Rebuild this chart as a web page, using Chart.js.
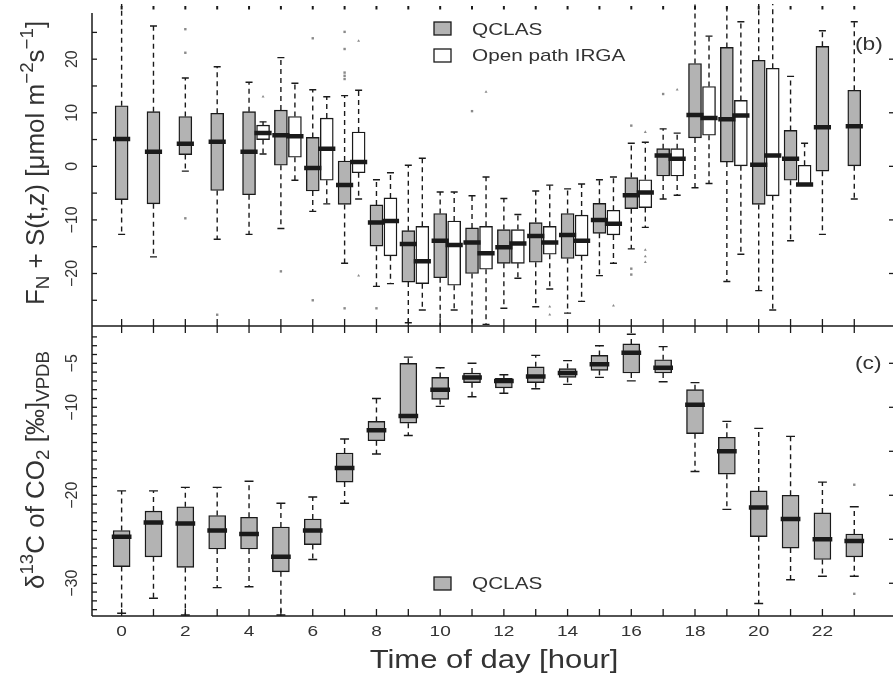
<!DOCTYPE html>
<html>
<head>
<meta charset="utf-8">
<script src="https://cdn.jsdelivr.net/npm/chart.js@4.4.1/dist/chart.umd.min.js"></script>
<style>
  html, body { margin: 0; padding: 0; background: #fff; overflow: hidden; }
  #wrap { position: relative; width: 893px; height: 677px; overflow: hidden; }
  #wrap canvas { position: absolute; left: 0; top: 0; }
</style>
</head>
<body>
<div id="wrap">
  <canvas id="fluxChart" width="900" height="677"></canvas>
  <canvas id="isoChart" width="900" height="677"></canvas>
</div>
<script>
// ---- data: panel (b), flux boxes per hour ----
const hours = [0, 1, 2, 3, 4, 5, 6, 7, 8, 9, 10, 11, 12, 13, 14, 15, 16, 17, 18, 19, 20, 21, 22, 23];

const fluxQclasLow  = [-12.7, -16.9, -0.9, -13.6, -12.7, -11.6, -8.4, -18.1, -22.4, -29.2, -34, -34, -26.5, -26.2, -27.4, -20.4, -15.4, -6.1, -4.0, -21.5, -23.2, -13.9, -12.7, -6.1];
const fluxQclasQ1   = [-6.2, -7.0, 2.2, -4.5, -5.3, 0.2, -4.6, -7.1, -14.9, -21.6, -20.8, -20.0, -18.1, -17.9, -17.2, -12.5, -7.9, -1.8, 5.3, 0.8, -7.1, -2.6, -0.9, 0.1];
const fluxQclasMed  = [5.1, 2.7, 4.2, 4.6, 2.7, 5.8, -0.3, -3.5, -10.5, -14.5, -13.9, -14.2, -15.1, -13.0, -12.8, -10.0, -5.4, 2.0, 9.6, 8.8, 0.3, 1.4, 7.3, 7.5];
const fluxQclasQ3   = [11.3, 10.2, 9.3, 9.9, 10.2, 10.5, 5.4, 1.0, -7.2, -12.0, -8.8, -11.5, -11.8, -10.5, -8.8, -6.9, -2.1, 3.3, 19.2, 22.2, 19.8, 6.7, 22.4, 14.2];
const fluxQclasHigh = [34, 26.2, 16.5, 18.6, 15.7, 20.3, 14.3, 13.2, -2.5, 0.2, -4.8, -5.5, -6.0, -4.6, -4.2, -2.5, 4.3, 7.0, 34, 34, 34, 16.8, 25.3, 27.0];
const fluxQclasOut  = [[2, 25.6], [2, 21.2], [2, -9.7], [3, -27.7], [5, -19.6], [6, 23.9], [6, -25.0], [7, 25.1], [7, 21.9], [7, 17.5], [7, 16.9], [7, 16.3], [7, -26.5], [8, -26.5], [11, 10.3], [16, 7.6], [16, -19.1], [16, -20.2], [17, 13.5]];

const irgaHours    = [4, 5, 6, 7, 8, 9, 10, 11, 12, 13, 14, 15, 16, 17, 18, 19, 20, 21];
const fluxIrgaLow  = [2.3, -2.6, -7.0, -6.1, -21.9, -26.8, -26.8, -29.5, -20.9, -22.9, -25.2, -18.1, -11.4, -5.4, -3.2, -16.4, -26.8, -3.4];
const fluxIrgaQ1   = [5.0, 1.7, -2.6, -1.2, -16.7, -21.9, -22.2, -19.2, -18.1, -16.4, -16.7, -12.8, -7.7, -1.8, 5.8, 0.1, -5.5, -3.4];
const fluxIrgaMed  = [6.2, 5.6, 3.3, 0.8, -10.2, -17.7, -14.7, -16.2, -14.4, -14.2, -13.9, -10.7, -4.9, 1.4, 9.0, 9.5, 2.0, -3.4];
const fluxIrgaQ3   = [7.7, 9.3, 9.0, 6.4, -5.9, -11.2, -10.2, -11.2, -11.8, -11.2, -9.1, -8.2, -2.5, 3.3, 14.9, 12.3, 18.3, 0.2];
const fluxIrgaHigh = [8.3, 15.5, 13.0, 14.2, -1.2, 1.5, -4.8, -2.0, -9.0, -3.5, -3.3, -2.0, 4.5, 6.2, 24.3, 27.0, 34, 4.3];
const fluxIrgaOut  = [[4, 13.0], [7, 23.4], [7, -20.4], [11, 13.9], [13, -26.2], [13, -27.7], [15, -26.0], [16, 6.4], [16, -15.6], [16, -16.8], [16, -17.9], [17, 14.3]];

// ---- data: panel (c), delta13C boxes per hour ----
const isoLow  = [-33.4, -31.7, -33.6, -30.5, -30.4, -33.6, -27.3, -20.9, -15.3, -13.2, -9.9, -8.8, -8.4, -7.9, -7.4, -6.6, -7.0, -7.1, -17.3, -21.6, -32.3, -29.6, -29.2, -29.2];
const isoQ1   = [-28.1, -27.0, -28.2, -26.1, -26.1, -28.7, -25.6, -18.5, -13.8, -11.8, -9.1, -7.2, -7.8, -7.2, -6.6, -5.8, -6.1, -6.1, -13.0, -17.6, -24.7, -26.0, -27.3, -27.0];
const isoMed  = [-24.7, -23.1, -23.2, -24.0, -24.4, -27.0, -24.0, -16.9, -12.6, -11.0, -8.0, -6.6, -7.0, -6.5, -6.1, -5.1, -3.8, -5.5, -9.7, -15.0, -21.4, -22.7, -25.0, -25.2];
const isoQ3   = [-24.0, -21.8, -21.3, -22.3, -22.5, -23.6, -22.7, -15.2, -11.6, -5.0, -6.6, -6.1, -6.7, -5.4, -5.6, -4.1, -2.8, -4.6, -8.0, -13.4, -19.5, -20.0, -22.0, -24.4];
const isoHigh = [-19.5, -19.5, -19.1, -19.1, -18.4, -20.9, -20.2, -13.6, -9.0, -4.3, -5.5, -5.0, -6.3, -4.1, -4.7, -3.0, -1.7, -3.1, -7.2, -11.6, -12.4, -13.3, -18.5, -21.3];
const isoOut  = [[23, -18.8], [23, -31.2]];

// ---- ticks ----
const fluxTickLabels = [-20, -10, 0, 10, 20];
const fluxMinorTicks = [-25, -20, -15, -10, -5, 0, 5, 10, 15, 20, 25];
const isoTickLabels  = [-5, -10, -20, -30];
const isoRightTicks  = [-5, -10, -15, -20, -25, -30];
const isoMinorTicks  = [-2, -3, -4, -5, -6, -7, -8, -9, -10, -11, -12, -13, -14, -15, -16, -17, -18, -19, -20, -21, -22, -23, -24, -25, -26, -27, -28, -29, -30, -31, -32, -33];
const hourLabels     = [0, 2, 4, 6, 8, 10, 12, 14, 16, 18, 20, 22];

// ---- look ----
const GRAY = '#b3b3b3';
const INK = '#1a1a1a';
const TEXT = '#333';
const FONT = '"Liberation Sans", Arial, sans-serif';
const IRGA_SHIFT = 0.44;   // white boxes sit just right of the hour
const X_MIN = -0.93, X_MAX = 24.31;

// helpers that turn the arrays into line segments for whiskers, caps, medians
function whiskerPts(xs, low, q1, q3, high) {
    const pts = [];
    xs.forEach((x, i) => {
        pts.push({x: x, y: q3[i]}, {x: x, y: high[i]}, {x: x, y: null});
        pts.push({x: x, y: q1[i]}, {x: x, y: low[i]}, {x: x, y: null});
    });
    return pts;
}
function flatPts(xs, vals, half) {
    const pts = [];
    xs.forEach((x, i) => {
        pts.push({x: x - half, y: vals[i]}, {x: x + half, y: vals[i]}, {x: x, y: null});
    });
    return pts;
}
function boxSet(xs, q1, q3, fill, thick) {
    return {
        type: 'bar', data: xs.map((x, i) => ({x: x, y: [q1[i], q3[i]]})),
        backgroundColor: fill, borderColor: INK, borderWidth: 1.4, borderSkipped: false,
        barThickness: thick, grouped: false, order: 1
    };
}
function lineSet(pts, width, dash, order) {
    return {
        type: 'line', data: pts, borderColor: INK, borderWidth: width, borderDash: dash,
        borderCapStyle: 'butt', pointRadius: 0, fill: false, spanGaps: false, tension: 0, order: order
    };
}
function pointSet(pairs, shift, style) {
    return {
        type: 'line', showLine: false, data: pairs.map(p => ({x: p[0] + shift, y: p[1]})),
        pointRadius: 1.7, pointStyle: style, pointBackgroundColor: '#8a8a8a', pointBorderColor: '#8a8a8a',
        pointBorderWidth: 0, order: 0
    };
}
function boxplot(xs, low, q1, med, q3, high, fill, thick, medHalf, capHalf) {
    return [
        boxSet(xs, q1, q3, fill, thick),
        lineSet(flatPts(xs, med, medHalf), 4.5, [], 0),
        lineSet(flatPts(xs, high, capHalf).concat(flatPts(xs, low, capHalf)), 1.4, [], 2),
        lineSet(whiskerPts(xs, low, q1, q3, high), 1.4, [5, 4], 3)
    ];
}

// drawing helpers for the frame
function seg(ctx, x1, y1, x2, y2) {
    ctx.beginPath(); ctx.moveTo(x1, y1); ctx.lineTo(x2, y2); ctx.stroke();
}
function label(ctx, str, x, y, o) {
    ctx.save();
    ctx.translate(x, y);
    if (o.rot) ctx.rotate(o.rot);
    ctx.scale(o.sx || 1, 1);
    ctx.font = o.size + 'px ' + FONT;
    ctx.fillStyle = TEXT;
    ctx.textAlign = o.align || 'center';
    ctx.textBaseline = o.base || 'alphabetic';
    ctx.fillText(str, 0, 0);
    ctx.restore();
}
// text with sub/superscripts, centred on (x, y) along the rotated baseline
function richLabel(ctx, parts, x, y, size, rot) {
    ctx.save();
    ctx.translate(x, y);
    ctx.rotate(rot);
    ctx.fillStyle = TEXT;
    ctx.textBaseline = 'alphabetic';
    ctx.textAlign = 'left';
    let total = 0;
    const widths = parts.map(p => {
        ctx.font = (p.s ? size * 0.72 : size) + 'px ' + FONT;
        const w = ctx.measureText(p.t).width;
        total += w;
        return w;
    });
    let cx = -total / 2;
    parts.forEach((p, i) => {
        ctx.font = (p.s ? size * 0.72 : size) + 'px ' + FONT;
        const dy = p.s === 'sup' ? -size * 0.42 : (p.s === 'sub' ? size * 0.2 : 0);
        ctx.fillText(p.t, cx, dy);
        cx += widths[i];
    });
    ctx.restore();
}
function legendBox(ctx, x, y, fill, text, textY) {
    ctx.fillStyle = fill;
    ctx.fillRect(x, y, 17, 13);
    ctx.strokeRect(x, y, 17, 13);
    label(ctx, text, 472, textY, {size: 17, sx: 1.22, align: 'left'});
}

const fluxFrame = {
    id: 'fluxFrame',
    afterDraw(chart) {
        const ctx = chart.ctx, a = chart.chartArea;
        const xs = chart.scales.x, ys = chart.scales.y;
        ctx.save();
        ctx.strokeStyle = INK;
        ctx.lineWidth = 1.5;
        seg(ctx, a.left, 13, a.left, a.bottom);
        seg(ctx, a.left, a.bottom, a.right, a.bottom);
        seg(ctx, a.right, a.top, a.right, a.bottom);
        ctx.lineWidth = 1.3;
        fluxMinorTicks.forEach(v => { const y = ys.getPixelForValue(v); seg(ctx, a.left, y, a.left + 5, y); });
        fluxTickLabels.forEach(v => { const y = ys.getPixelForValue(v); seg(ctx, a.right, y, a.right - 7, y); });
        hours.forEach(h => {
            const x = xs.getPixelForValue(h);
            seg(ctx, x, a.bottom, x, a.bottom - 7);
        });
        ctx.lineWidth = 2;
        hours.forEach(h => {
            const x = xs.getPixelForValue(h);
            seg(ctx, x, 6, x, 9.5);
        });
        fluxTickLabels.forEach(v => {
            const txt = v < 0 ? '\u2212' + Math.abs(v) : String(v);
            label(ctx, txt, 77, ys.getPixelForValue(v), {size: 16, rot: -Math.PI / 2});
        });
        richLabel(ctx, [
            {t: 'F'}, {t: 'N', s: 'sub'}, {t: ' + S(t,z) [\u03BCmol m'}, {t: '\u22122', s: 'sup'},
            {t: 's'}, {t: '\u22121', s: 'sup'}, {t: ']'}
        ], 44, 163, 26, -Math.PI / 2);
        ctx.lineWidth = 1.3;
        legendBox(ctx, 434, 22, GRAY, 'QCLAS', 35);
        legendBox(ctx, 434, 49, '#fff', 'Open path IRGA', 61);
        label(ctx, '(b)', 855, 45, {size: 19, sx: 1.2, align: 'left', base: 'middle'});
        ctx.restore();
    }
};

const isoFrame = {
    id: 'isoFrame',
    afterDraw(chart) {
        const ctx = chart.ctx, a = chart.chartArea;
        const xs = chart.scales.x, ys = chart.scales.y;
        ctx.save();
        ctx.strokeStyle = INK;
        ctx.lineWidth = 1.5;
        seg(ctx, a.left, a.top, a.left, a.bottom);
        seg(ctx, a.left, a.bottom, a.right, a.bottom);
        seg(ctx, a.right, a.top, a.right, a.bottom);
        ctx.lineWidth = 1.3;
        isoMinorTicks.forEach(v => { const y = ys.getPixelForValue(v); seg(ctx, a.left, y, a.left + 5, y); });
        isoRightTicks.forEach(v => { const y = ys.getPixelForValue(v); seg(ctx, a.right, y, a.right - 7, y); });
        hours.forEach(h => {
            const x = xs.getPixelForValue(h);
            seg(ctx, x, a.top, x, a.top + 7);
            seg(ctx, x, a.bottom, x, a.bottom - 7);
        });
        isoTickLabels.forEach(v => {
            label(ctx, '\u2212' + Math.abs(v), 77, ys.getPixelForValue(v), {size: 16, rot: -Math.PI / 2});
        });
        hourLabels.forEach(h => {
            label(ctx, String(h), xs.getPixelForValue(h), a.bottom + 20, {size: 15.5, sx: 1.23});
        });
        label(ctx, 'Time of day [hour]', (a.left + a.right) / 2, a.bottom + 52, {size: 25, sx: 1.24});
        richLabel(ctx, [
            {t: '\u03B4'}, {t: '13', s: 'sup'}, {t: 'C of CO'}, {t: '2', s: 'sub'},
            {t: ' [\u2030]'}, {t: 'VPDB', s: 'sub'}
        ], 44, 470, 26, -Math.PI / 2);
        ctx.lineWidth = 1.3;
        legendBox(ctx, 434, 577, GRAY, 'QCLAS', 589);
        label(ctx, '(c)', 855, 364, {size: 19, sx: 1.2, align: 'left', base: 'middle'});
        ctx.restore();
    }
};

function baseOptions(padding, yMin, yMax) {
    return {
        responsive: false,
        animation: false,
        devicePixelRatio: 1,
        layout: {padding: padding},
        plugins: {legend: {display: false}, tooltip: {enabled: false}},
        scales: {
            x: {type: 'linear', display: false, min: X_MIN, max: X_MAX, offset: false},
            y: {type: 'linear', display: false, min: yMin, max: yMax}
        }
    };
}

const irgaX = irgaHours.map(h => h + IRGA_SHIFT);

new Chart(document.getElementById('fluxChart'), {
    type: 'bar',
    data: {
        datasets: [].concat(
            boxplot(hours, fluxQclasLow, fluxQclasQ1, fluxQclasMed, fluxQclasQ3, fluxQclasHigh, GRAY, 13, 0.27, 0.11),
            boxplot(irgaX, fluxIrgaLow, fluxIrgaQ1, fluxIrgaMed, fluxIrgaQ3, fluxIrgaHigh, '#fff', 13, 0.27, 0.11),
            [pointSet(fluxQclasOut, 0, 'rect'), pointSet(fluxIrgaOut, IRGA_SHIFT, 'triangle')]
        )
    },
    options: baseOptions({left: 92, right: 3, top: 0, bottom: 351}, -29.8, 30.3),
    plugins: [fluxFrame]
});

new Chart(document.getElementById('isoChart'), {
    type: 'bar',
    data: {
        datasets: [].concat(
            boxplot(hours, isoLow, isoQ1, isoMed, isoQ3, isoHigh, GRAY, 17, 0.31, 0.14),
            [pointSet(isoOut, 0, 'rect')]
        )
    },
    options: baseOptions({left: 92, right: 3, top: 326, bottom: 61}, -33.72, -0.76),
    plugins: [isoFrame]
});
</script>
</body>
</html>
